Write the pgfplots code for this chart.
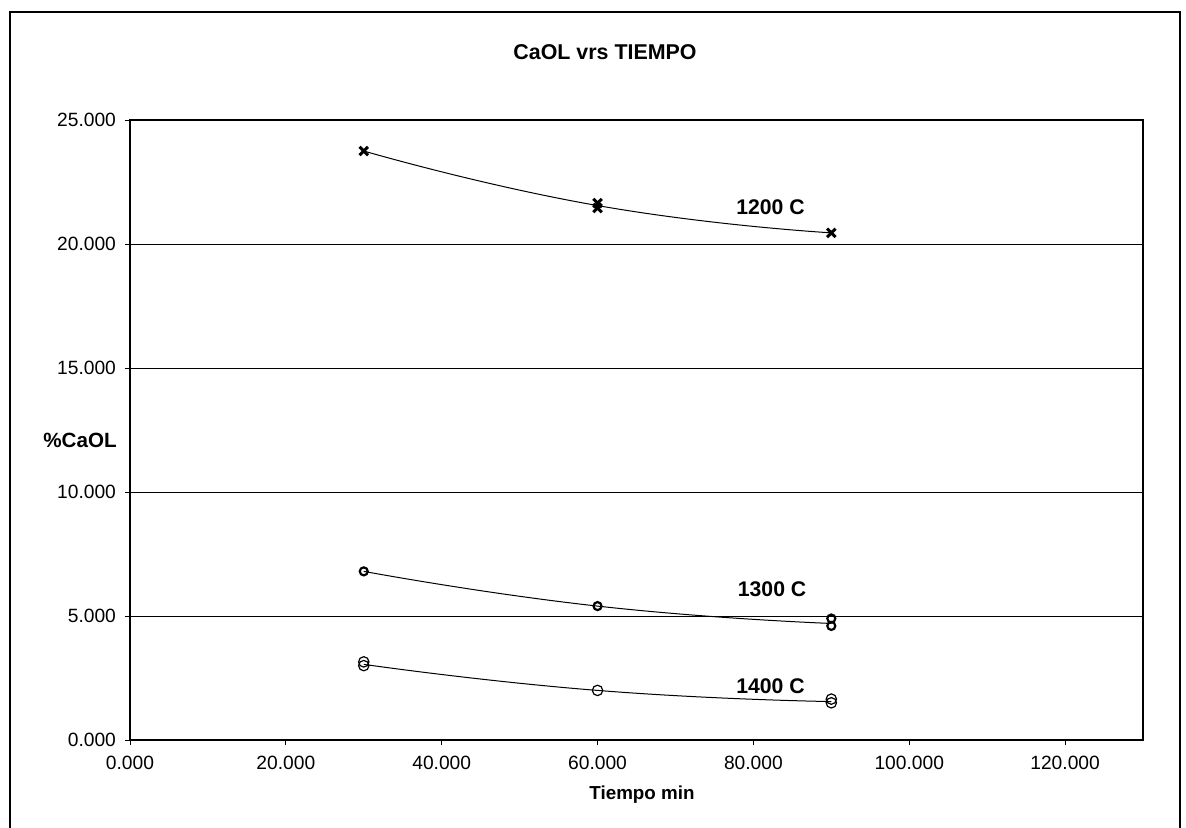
\documentclass[border=0pt]{standalone}
\usepackage{pgfplots}
\pgfplotsset{compat=1.18}
\usepackage{fontspec}
\setmainfont{Liberation Sans}
\begin{document}
\begin{tikzpicture}
\path[use as bounding box] (-65pt,-43.5pt) rectangle (528pt,370pt);
\draw[line width=0.8pt] (-60pt,-50pt) -- (-60pt,364pt) -- (525pt,364pt) -- (525pt,-50pt);
\begin{axis}[
  at={(0pt,0pt)}, anchor=south west,
  scale only axis, width=506.5pt, height=310pt,
  xmin=0, xmax=130, ymin=0, ymax=25,
  xtick={0,20,...,120}, ytick={0,5,...,25},
  ymajorgrids, grid style={black, line width=0.5pt},
  axis line style={black, line width=0.8pt},
  tick align=outside, major tick length=2.5pt,
  tick style={black, line width=0.4pt},
  xtick pos=bottom, ytick pos=left,
  /pgf/number format/.cd, fixed, fixed zerofill, precision=3, 1000 sep={}, assume math mode=true,
  /pgfplots/.cd,
  ticklabel style={font=\fontsize{9.6}{11}\selectfont},
  xticklabel style={yshift=-2pt},
  yticklabel style={xshift=-1pt},
  title={\textbf{CaOL vrs TIEMPO}},
  title style={font=\fontsize{10.7}{12}\selectfont, at={(237.5pt,338pt)}, anchor=center},
  xlabel={\textbf{Tiempo min}},
  xlabel style={font=\fontsize{9.4}{11}\selectfont, at={(256pt,-27.5pt)}, anchor=center},
  ylabel={\textbf{\%CaOL}},
  ylabel style={font=\fontsize{10.3}{12}\selectfont, rotate=-90, at={(-25pt,150pt)}, anchor=center},
  clip=false,
]
% trend curves
\addplot[black, line width=0.5pt, smooth, tension=0.9, no marks] coordinates {(30,23.75) (60,21.55) (90,20.45)};
\addplot[black, line width=0.5pt, smooth, tension=0.9, no marks] coordinates {(30,6.8) (60,5.4) (90,4.7)};
\addplot[black, line width=0.5pt, smooth, tension=0.9, no marks] coordinates {(30,3.05) (60,2.0) (90,1.55)};
% markers
\addplot[only marks, mark=x, mark size=3pt, mark options={line width=1.5pt, black}] coordinates {(30,23.75) (60,21.65) (60,21.45) (90,20.45)};
\addplot[only marks, mark=o, mark size=2pt, mark options={line width=1.1pt, black, fill=white}] coordinates {(30,6.8) (60,5.4) (90,4.9) (90,4.6)};
\addplot[only marks, mark=o, mark size=2.6pt, mark options={line width=0.6pt, black, fill=white}] coordinates {(30,3.15) (30,3.0) (60,2.0) (90,1.65) (90,1.5)};
% labels
\node[font=\fontsize{10.6}{12}\selectfont\bfseries] at (axis cs:82.2,21.5) {1200 C};
\node[font=\fontsize{10.6}{12}\selectfont\bfseries] at (axis cs:82.4,6.1) {1300 C};
\node[font=\fontsize{10.6}{12}\selectfont\bfseries] at (axis cs:82.2,2.15) {1400 C};
\end{axis}
\end{tikzpicture}
\end{document}
